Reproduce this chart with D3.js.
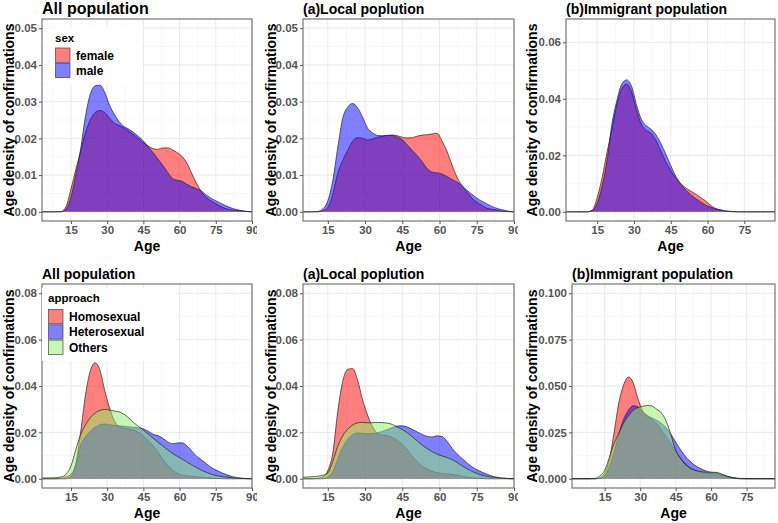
<!DOCTYPE html>
<html><head><meta charset="utf-8">
<script src="https://cdn.jsdelivr.net/npm/d3@7"></script>
<style>
body{margin:0;background:#fff}
svg{display:block}
text{font-family:"Liberation Sans",Arial,sans-serif;font-weight:bold}
</style>
</head><body><script>
// ---------- data ----------
const ageGrid = [3, 8, 11, 13, 15, 17, 19, 21, 23, 25, 27, 29, 31, 33, 35, 37, 39, 41, 43, 45, 47, 49, 51, 53, 55, 57, 59, 61, 63, 65, 67, 69, 71, 73, 76, 79, 82, 85, 90];

const sexAllFemale = [0,0,0.0001,0.0015, 0.0062,0.0115,0.0165,0.0215, 0.025,0.027,0.0276,0.027, 0.0255,0.0241,0.0235,0.0228, 0.0219,0.021,0.0199,0.0188, 0.0179,0.0172,0.017,0.0174, 0.0174,0.0169,0.0161,0.0151, 0.0133,0.0105,0.0078,0.0055, 0.0039,0.003,0.0018,0.0009, 0.0005,0.0003,0];
const sexAllMale = [0,0,0,0.0008, 0.004,0.01,0.017,0.026, 0.032,0.0343,0.0345,0.0325, 0.029,0.0265,0.0245,0.0232, 0.0225,0.0216,0.0205,0.0193, 0.0177,0.0161,0.0144,0.0127, 0.0108,0.0091,0.0086,0.0083, 0.0075,0.0068,0.0063,0.0057, 0.0046,0.0037,0.0027,0.0017, 0.0009,0.0004,0];

const sexLocalFemale = [0,0,0,0.0003, 0.0012,0.0048,0.0105,0.014, 0.0167,0.0192,0.0202,0.02, 0.0195,0.0198,0.0203,0.0206, 0.0208,0.0209,0.0207,0.0203, 0.0201,0.0202,0.0206,0.0209, 0.021,0.0212,0.0214,0.0193, 0.0165,0.0128,0.0095,0.0072, 0.0054,0.0038,0.0022,0.001, 0.0006,0.0002,0];
const sexLocalMale = [0,0,0.0001,0.0008, 0.003,0.0085,0.0175,0.0255, 0.0285,0.0295,0.0283,0.0258, 0.0228,0.0215,0.0208,0.0207, 0.0208,0.0208,0.0203,0.0196, 0.0182,0.0167,0.0153,0.0136, 0.0118,0.0108,0.0106,0.0103, 0.0096,0.0088,0.0081,0.0071, 0.0059,0.0048,0.0033,0.0022, 0.0012,0.0006,0];

const sexImmFemale = [0,0,0,0.0006, 0.005,0.012,0.021,0.029, 0.0378,0.0435,0.0452,0.0425, 0.0362,0.031,0.0288,0.0278, 0.0252,0.0215,0.0177,0.0146, 0.012,0.0101,0.0085,0.0074, 0.0064,0.0052,0.004,0.0025, 0.0013,0.0007,0.0003,0.0002, 0.0001,0,0,0, 0,0,0];
const sexImmMale = [0,0,0,0.0004, 0.003,0.009,0.018,0.031, 0.0392,0.0452,0.0467,0.0445, 0.038,0.0328,0.0305,0.0292, 0.0272,0.0242,0.0204,0.0164, 0.0127,0.0099,0.0078,0.0062, 0.0048,0.0036,0.0025,0.0017, 0.0011,0.0007,0.0004,0.0001, 0,0,0,0, 0,0,0];

const apprAllHomo = [0,0,0.0002,0.0008, 0.002,0.0065,0.02,0.036, 0.0465,0.05,0.0468,0.038, 0.0305,0.025,0.0225,0.0218, 0.0215,0.021,0.02,0.0185, 0.0165,0.0142,0.0115,0.0085, 0.0058,0.0038,0.0024,0.0016, 0.0012,0.001,0.0008,0.0006, 0.0004,0.0003,0.0001,0, 0,0,0];
const apprAllHetero = [0,0,0,0, 0.001,0.006,0.0145,0.018, 0.0205,0.0222,0.0233,0.0236, 0.0233,0.023,0.0228,0.0226, 0.0224,0.0222,0.022,0.0215, 0.0205,0.0192,0.0186,0.0175, 0.016,0.0151,0.0154,0.0155, 0.0142,0.012,0.0097,0.0082, 0.0066,0.0049,0.0033,0.0019, 0.0009,0.0003,0];
const apprAllOthers = [0.0003,0.0004,0.0008,0.002, 0.0055,0.0125,0.019,0.0232, 0.0263,0.0283,0.0295,0.0299, 0.0296,0.0292,0.0288,0.0278, 0.0262,0.0242,0.0225,0.021, 0.0193,0.0175,0.0158,0.0142, 0.0125,0.011,0.0097,0.0085, 0.0072,0.006,0.0048,0.0037, 0.0028,0.002,0.0012,0.0007, 0.0004,0.0002,0];

const apprLocalHomo = [0,0,0.0002,0.0008, 0.0035,0.011,0.029,0.042, 0.0472,0.0475,0.0425,0.034, 0.0275,0.0225,0.0195,0.0188, 0.0185,0.0178,0.0165,0.0148, 0.0125,0.0098,0.0075,0.0055, 0.0042,0.0032,0.0026,0.0022, 0.002,0.0018,0.0015,0.0011, 0.0007,0.0004,0.0002,0, 0,0,0];
const apprLocalHetero = [0,0,0,0, 0.0008,0.003,0.0085,0.0135, 0.017,0.019,0.0197,0.0196, 0.0194,0.0195,0.0198,0.0204, 0.0212,0.0221,0.0227,0.0228, 0.0223,0.0213,0.0202,0.0191, 0.0183,0.018,0.0185,0.0182, 0.0162,0.0132,0.0108,0.0088, 0.0069,0.0052,0.0034,0.002, 0.0009,0.0003,0];
const apprLocalOthers = [0.0006,0.0008,0.0011,0.0015, 0.0025,0.0075,0.014,0.0185, 0.0213,0.0232,0.0241,0.0243, 0.0241,0.0242,0.0243,0.0242, 0.024,0.0234,0.0223,0.0212, 0.0198,0.0182,0.0163,0.0145, 0.013,0.0117,0.0106,0.0098, 0.0092,0.0083,0.0071,0.0056, 0.0043,0.0032,0.0019,0.001, 0.0006,0.0003,0];

const apprImmHomo = [0,0,0,0.0005, 0.003,0.0105,0.025,0.041, 0.0505,0.0548,0.052,0.0435, 0.0368,0.034,0.032,0.0295, 0.0262,0.0225,0.0188,0.0148, 0.0112,0.0082,0.006,0.0046, 0.0037,0.0032,0.0029,0.0027, 0.0024,0.0017,0.001,0.0004, 0.0001,0,0,0, 0,0,0];
const apprImmHetero = [0,0,0,0.0002, 0.0015,0.0065,0.014,0.024, 0.032,0.0368,0.0394,0.0388, 0.036,0.034,0.0328,0.0315, 0.0298,0.0275,0.024,0.0198, 0.0158,0.0123,0.0095,0.0074, 0.0058,0.0046,0.0037,0.0033, 0.0029,0.0021,0.0013,0.0007, 0.0003,0.0001,0,0, 0,0,0];
const apprImmOthers = [0,0,0.0002,0.0015, 0.0045,0.0115,0.019,0.0245, 0.03,0.0338,0.0368,0.0383, 0.039,0.0395,0.0392,0.0375, 0.0355,0.031,0.0238,0.0155, 0.011,0.0078,0.0058,0.0046, 0.004,0.0036,0.0035,0.0035, 0.0032,0.0022,0.0012,0.0005, 0.0001,0,0,0, 0,0,0];

const sexLevels = ["female", "male"];
const approachLevels = ["Homosexual", "Heterosexual", "Others"];
const xTickValues = [15, 30, 45, 60, 75, 90];
const yTicksSex = [0, 0.01, 0.02, 0.03, 0.04, 0.05];
const yTicksSexImm = [0, 0.02, 0.04, 0.06];
const yTicksAppr = [0, 0.02, 0.04, 0.06, 0.08];
const yTicksApprImm = [0, 0.025, 0.05, 0.075, 0.1];
const panelTitles = ["All population", "(a)Local poplution", "(b)Immigrant population"];

// ---------- styles ----------
const fillColor = {female: "#FF0000", male: "#0000FF", Homosexual: "#FF0000", Heterosexual: "#0000FF", Others: "#8FEF6A"};
const FILL_OPACITY = 0.5;

const svg = d3.select("body").append("svg").attr("width", 778).attr("height", 523);

const panels = [
  {cell:[0,0,257,260], box:[42,19,252,221], xd:[3,90], yd:[-0.0025,0.0525], yt:yTicksSex, fmt:".2f", title:panelTitles[0], tsize:16, ytx:14,
   series:[["female",sexAllFemale],["male",sexAllMale]], legend:{title:"sex", levels:sexLevels, x:55, ty:41.5, ky:47.5, lx:76}},
  {cell:[257,0,261,260], box:[303,19,514,221], xd:[5,90], yd:[-0.0025,0.0525], yt:yTicksSex, fmt:".2f", title:panelTitles[1], tsize:14, ytx:276,
   series:[["female",sexLocalFemale],["male",sexLocalMale]]},
  {cell:[518,0,260,260], box:[566,19,775,221], xd:[2.3,87.5], yd:[-0.00325,0.06825], yt:yTicksSexImm, fmt:".2f", title:panelTitles[2], tsize:14, ytx:537,
   series:[["female",sexImmFemale],["male",sexImmMale]]},
  {cell:[0,260,257,263], box:[42,284,252,488], xd:[3,90], yd:[-0.004,0.084], yt:yTicksAppr, fmt:".2f", title:panelTitles[0], tsize:14, ytx:14,
   series:[["Homosexual",apprAllHomo],["Heterosexual",apprAllHetero],["Others",apprAllOthers]], legend:{title:"approach", levels:approachLevels, x:48, ty:302, ky:309, lx:69}},
  {cell:[257,260,261,263], box:[303,284,514,488], xd:[5,90], yd:[-0.004,0.084], yt:yTicksAppr, fmt:".2f", title:panelTitles[1], tsize:14, ytx:276,
   series:[["Homosexual",apprLocalHomo],["Heterosexual",apprLocalHetero],["Others",apprLocalOthers]]},
  {cell:[518,260,260,263], box:[572,284,775,488], xd:[1.2,87], yd:[-0.005,0.105], yt:yTicksApprImm, fmt:".3f", title:panelTitles[2], tsize:14, ytx:537,
   series:[["Homosexual",apprImmHomo],["Heterosexual",apprImmHetero],["Others",apprImmOthers]]}
];

const defs = svg.append("defs");

panels.forEach((p, i) => {
  const [cx, cy, cw, ch] = p.cell;
  defs.append("clipPath").attr("id", "cell" + i).append("rect").attr("x", cx).attr("y", cy).attr("width", cw).attr("height", ch);
  const [x0, y0, x1, y1] = p.box;
  defs.append("clipPath").attr("id", "plot" + i).append("rect").attr("x", x0).attr("y", y0).attr("width", x1 - x0).attr("height", y1 - y0);

  const g = svg.append("g").attr("clip-path", `url(#cell${i})`);
  const x = d3.scaleLinear().domain(p.xd).range([x0, x1]);
  const y = d3.scaleLinear().domain(p.yd).range([y1, y0]);

  // grid
  const grid = g.append("g");
  const xt = xTickValues.filter(v => v >= p.xd[0] && v <= p.xd[1]);
  const xMinor = d3.range(0, 100, 7.5).filter(v => !xTickValues.includes(v) && v > p.xd[0] && v < p.xd[1]);
  const step = p.yt[1] - p.yt[0];
  const yMinor = p.yt.map(v => v + step / 2).concat([p.yt[0] - step / 2]).filter(v => v > p.yd[0] && v < p.yd[1]);
  grid.selectAll(".xm").data(xMinor).join("line").attr("x1", d => x(d)).attr("x2", d => x(d)).attr("y1", y0).attr("y2", y1)
    .attr("stroke", "#F2F2F2").attr("stroke-width", 0.6);
  grid.selectAll(".ym").data(yMinor).join("line").attr("y1", d => y(d)).attr("y2", d => y(d)).attr("x1", x0).attr("x2", x1)
    .attr("stroke", "#F2F2F2").attr("stroke-width", 0.6);
  grid.selectAll(".xM").data(xt).join("line").attr("x1", d => x(d)).attr("x2", d => x(d)).attr("y1", y0).attr("y2", y1)
    .attr("stroke", "#EAEAEA").attr("stroke-width", 1);
  grid.selectAll(".yM").data(p.yt).join("line").attr("y1", d => y(d)).attr("y2", d => y(d)).attr("x1", x0).attr("x2", x1)
    .attr("stroke", "#EAEAEA").attr("stroke-width", 1);

  // densities
  const plot = g.append("g").attr("clip-path", `url(#plot${i})`);
  const area = d3.area().x(d => x(d[0])).y0(y(0)).y1(d => y(d[1])).curve(d3.curveMonotoneX);
  const line = d3.line().x(d => x(d[0])).y(d => y(d[1])).curve(d3.curveMonotoneX);
  p.series.forEach(([name, vals]) => {
    const pts = ageGrid.map((a, k) => [a, vals[k]]);
    const full = [[p.xd[0] - 1, 0]].concat(pts).concat([[p.xd[1] + 1, 0]]);
    plot.append("path").datum(full).attr("d", area).attr("fill", fillColor[name]).attr("fill-opacity", FILL_OPACITY);
    plot.append("path").datum(full).attr("d", line).attr("fill", "none").attr("stroke", "#222").attr("stroke-width", 0.7);
  });

  // border
  g.append("rect").attr("x", x0).attr("y", y0).attr("width", x1 - x0).attr("height", y1 - y0)
    .attr("fill", "none").attr("stroke", "#6b6b6b").attr("stroke-width", 1.1);

  // axes
  const xAxis = g.append("g").attr("transform", `translate(0,${y1})`)
    .call(d3.axisBottom(x).tickValues(xt).tickSize(3).tickPadding(2).tickFormat(d3.format("d")));
  xAxis.select(".domain").remove();
  xAxis.selectAll("line").attr("stroke", "#555");
  xAxis.selectAll("text").attr("fill", "#555").attr("font-size", 11.5).attr("dy", "0.71em");
  const yAxis = g.append("g").attr("transform", `translate(${x0},0)`)
    .call(d3.axisLeft(y).tickValues(p.yt).tickSize(3).tickPadding(2).tickFormat(d3.format(p.fmt)));
  yAxis.select(".domain").remove();
  yAxis.selectAll("line").attr("stroke", "#555");
  yAxis.selectAll("text").attr("fill", "#555").attr("font-size", 11.5);
  g.selectAll(".tick text").attr("font-family", '"Liberation Sans",Arial,sans-serif').attr("font-weight", "bold");

  // titles
  g.append("text").attr("x", x0).attr("y", p.tsize === 16 ? 14 : y0 - 5).attr("font-size", p.tsize).attr("fill", "#000").text(p.title);
  g.append("text").attr("x", (x0 + x1) / 2).attr("y", y1 + 30).attr("text-anchor", "middle").attr("font-size", 14).text("Age");
  g.append("text").attr("transform", `translate(${p.ytx},${(y0 + y1) / 2}) rotate(-90)`).attr("text-anchor", "middle")
    .attr("font-size", 14).text("Age density of confirmations");

  // legend
  if (p.legend) {
    const L = p.legend;
    const n = L.levels.length;
    const wMax = d3.max(L.levels, d => d.length) * 7 + 30;
    g.append("rect").attr("x", L.x - 6).attr("y", L.ty - 14).attr("width", wMax + 20).attr("height", (L.ky - L.ty + 14) + n * 15.3 + 6).attr("fill", "#fff");
    g.append("text").attr("x", L.x).attr("y", L.ty).attr("font-size", 11.5).text(L.title);
    L.levels.forEach((lv, k) => {
      const ky = L.ky + k * 15.3;
      g.append("rect").attr("x", L.x + 0.5).attr("y", ky + 0.5).attr("width", 14.5).attr("height", 14.3).attr("fill", "#fff");
      g.append("rect").attr("x", L.x + 0.5).attr("y", ky + 0.5).attr("width", 14.5).attr("height", 14.3)
        .attr("fill", fillColor[lv]).attr("fill-opacity", FILL_OPACITY).attr("stroke", "#444").attr("stroke-width", 0.7);
      g.append("text").attr("x", L.lx).attr("y", ky + 12).attr("font-size", 12).text(lv);
    });
  }
});
</script></body></html>
